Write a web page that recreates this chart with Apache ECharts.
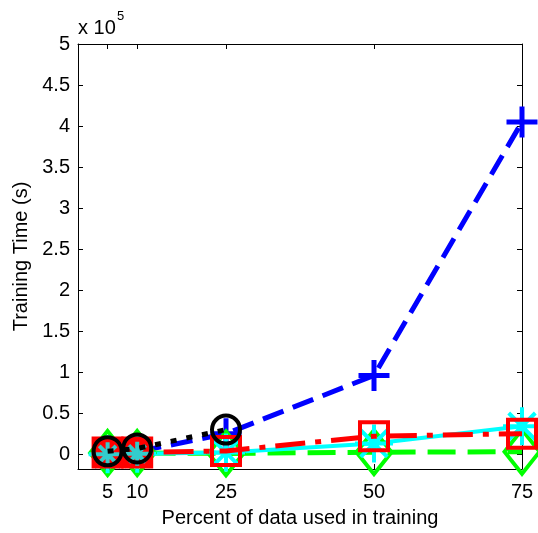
<!DOCTYPE html>
<html>
<head>
<meta charset="utf-8">
<script src="https://cdn.jsdelivr.net/npm/echarts@6/dist/echarts.min.js"></script>
<style>
html, body { margin: 0; padding: 0; background: #fff; }
#chart { width: 538px; height: 533px; }
</style>
</head>
<body>
<div id="chart"></div>
<script>
// x positions (percent of data used in training)
var percent = [5, 10, 25, 50, 75];
// training time in seconds
var timeBlue = [1000, 3000, 25000, 96000, 405000];
var timeBlack = [3500, 7000, 30000];
var timeRed = [2000, 2000, 4000, 22000, 25000];
var timeCyan = [0, 500, 2000, 13000, 34000];
var timeGreen = [1500, 1500, 1000, 2500, 3000];
var yTicks = [0, 50000, 100000, 150000, 200000, 250000, 300000, 350000, 400000, 450000, 500000];

function pairs(ys) {
  var out = [];
  for (var i = 0; i < ys.length; i++) {
    out.push([percent[i], ys[i]]);
  }
  return out;
}

var FONT = 'Liberation Sans, Arial, sans-serif';
var plusPath = 'path://M0,50L100,50M50,0L50,100';
var starPath = 'path://M0,50L100,50M50,0L50,100M15,15L85,85M85,15L15,85';

// the two overlapping squares at 5 and 10 look solid red in the original
var redData = pairs(timeRed).map(function (p, i) {
  return i < 2 ? { value: p, itemStyle: { color: '#ff0000' } } : { value: p };
});
// cyan stars at 5 and 10 show on top of that red
var cyanFront = pairs(timeCyan).slice(0, 2);

var dom = document.getElementById('chart');
var myChart = echarts.init(dom);

var cyanMarker = { color: 'rgba(0,0,0,0)', borderColor: '#00ffff', borderWidth: 4 };

var option = {
  animation: false,
  backgroundColor: '#fff',
  grid: { left: 78, right: 16, top: 44, bottom: 62 },
  graphic: [
    { type: 'text', left: 78, top: 18, style: { text: 'x 10', font: '20px ' + FONT, fill: '#000' } },
    { type: 'text', left: 117, top: 10, style: { text: '5', font: '13px ' + FONT, fill: '#000' } }
  ],
  xAxis: [
    {
      type: 'value', min: 0, max: 75, position: 'bottom',
      name: 'Percent of data used in training',
      nameLocation: 'middle', nameGap: 39,
      nameTextStyle: { fontSize: 20, color: '#000', fontFamily: FONT },
      axisLine: { show: true, onZero: false, lineStyle: { color: '#000', width: 1 } },
      axisTick: { show: true, inside: true, length: 5, customValues: percent, lineStyle: { color: '#000' } },
      axisLabel: { customValues: percent, fontSize: 20, color: '#000', fontFamily: FONT, margin: 13 },
      splitLine: { show: false }
    },
    {
      type: 'value', min: 0, max: 75, position: 'top',
      axisLine: { show: true, onZero: false, lineStyle: { color: '#000', width: 1 } },
      axisTick: { show: true, inside: true, length: 5, customValues: percent, lineStyle: { color: '#000' } },
      axisLabel: { show: false },
      splitLine: { show: false }
    }
  ],
  yAxis: [
    {
      type: 'value', min: -18000, max: 500000, position: 'left',
      name: 'Training Time (s)',
      nameLocation: 'middle', nameGap: 46,
      nameTextStyle: { fontSize: 20, color: '#000', fontFamily: FONT },
      axisLine: { show: true, onZero: false, lineStyle: { color: '#000', width: 1 } },
      axisTick: { show: true, inside: true, length: 5, customValues: yTicks, lineStyle: { color: '#000' } },
      axisLabel: {
        customValues: yTicks, fontSize: 20, color: '#000', fontFamily: FONT, margin: 8,
        formatter: function (v) { return String(Math.round(v / 10000) / 10); }
      },
      splitLine: { show: false }
    },
    {
      type: 'value', min: -18000, max: 500000, position: 'right',
      axisLine: { show: true, onZero: false, lineStyle: { color: '#000', width: 1 } },
      axisTick: { show: true, inside: true, length: 5, customValues: yTicks, lineStyle: { color: '#000' } },
      axisLabel: { show: false },
      splitLine: { show: false }
    }
  ],
  series: [
    {
      name: 'blue', type: 'line', data: pairs(timeBlue), clip: false, z: 2,
      lineStyle: { color: '#0000ff', width: 5, type: [22, 10], cap: 'butt' },
      symbol: plusPath, symbolSize: 31,
      itemStyle: { color: 'rgba(0,0,0,0)', borderColor: '#0000ff', borderWidth: 5 }
    },
    {
      name: 'green', type: 'line', data: pairs(timeGreen), clip: false, z: 2,
      lineStyle: { color: '#00ff00', width: 5, type: [28, 12], cap: 'butt' },
      symbol: 'diamond', symbolSize: [35, 44],
      itemStyle: { color: 'rgba(0,0,0,0)', borderColor: '#00ff00', borderWidth: 4 }
    },
    {
      name: 'cyan', type: 'line', data: pairs(timeCyan), clip: false, z: 2,
      lineStyle: { color: '#00ffff', width: 4, type: 'solid' },
      symbol: starPath, symbolSize: 38,
      itemStyle: cyanMarker
    },
    {
      name: 'red', type: 'line', data: redData, clip: false, z: 3,
      lineStyle: { color: '#ff0000', width: 5, type: [30, 10, 6, 10], cap: 'butt' },
      symbol: 'rect', symbolSize: 28,
      itemStyle: { color: 'rgba(0,0,0,0)', borderColor: '#ff0000', borderWidth: 4 }
    },
    {
      name: 'cyan front', type: 'scatter', data: cyanFront, clip: false, z: 4,
      symbol: starPath, symbolSize: 24,
      itemStyle: cyanMarker
    },
    {
      name: 'black', type: 'line', data: pairs(timeBlack), clip: false, z: 5,
      lineStyle: { color: '#000000', width: 5, type: [6, 10], cap: 'butt' },
      symbol: 'circle', symbolSize: 28,
      itemStyle: { color: 'rgba(0,0,0,0)', borderColor: '#000000', borderWidth: 4 }
    }
  ]
};

myChart.setOption(option);
</script>
</body>
</html>
